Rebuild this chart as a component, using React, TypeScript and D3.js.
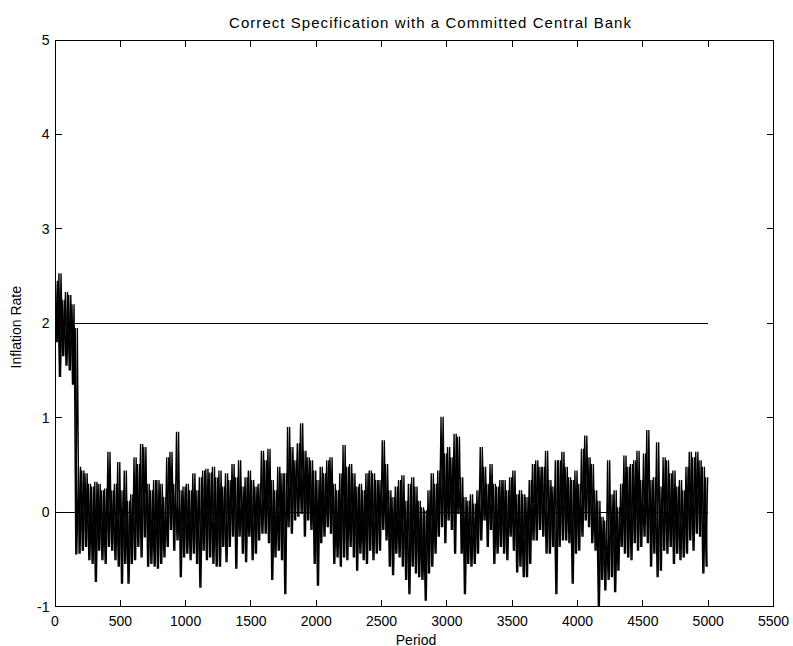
import * as d3 from 'd3'

const title = 'Correct Specification with a Committed Central Bank'
const xLabel = 'Period'
const yLabel = 'Inflation Rate'

const periodTicks = [0, 500, 1000, 1500, 2000, 2500, 3000, 3500, 4000, 4500, 5000, 5500]
const rateTicks = [-1, 0, 1, 2, 3, 4, 5]

// simulated path, 25 periods per bin: highest and lowest value in each bin
const binWidth = 25
const binHigh = [
  2.45, 2.53, 2.25, 2.33, 2.3, 2.2, 1.95, 0.48, 0.44, 0.41,
  0.3, 0.27, 0.32, 0.3, 0.23, 0.25, 0.64, 0.23, 0.3, 0.53,
  0.23, 0.44, 0.12, 0.19, 0.58, 0.51, 0.72, 0.69, 0.3, 0.23,
  0.34, 0.34, 0.3, 0.16, 0.58, 0.64, 0.3, 0.85, 0.23, 0.27,
  0.3, 0.23, 0.41, 0.23, 0.37, 0.44, 0.46, 0.42, 0.48, 0.37,
  0.44, 0.27, 0.41, 0.34, 0.51, 0.37, 0.55, 0.27, 0.37, 0.44,
  0.34, 0.27, 0.3, 0.65, 0.55, 0.67, 0.34, 0.23, 0.48, 0.41,
  0.41, 0.9, 0.69, 0.55, 0.73, 0.94, 0.65, 0.58, 0.55, 0.44,
  0.34, 0.48, 0.41, 0.55, 0.58, 0.3, 0.23, 0.41, 0.71, 0.48,
  0.51, 0.41, 0.27, 0.3, 0.23, 0.41, 0.44, 0.41, 0.34, 0.34,
  0.76, 0.51, 0.23, 0.16, 0.27, 0.34, 0.39, 0.12, 0.3, 0.37,
  0.27, 0.12, 0.05, 0.02, 0.23, 0.41, 0.3, 0.44, 1.01, 0.62,
  0.69, 0.58, 0.83, 0.8, 0.37, 0.16, 0.12, 0.19, 0.09, 0.23,
  0.69, 0.48, 0.3, 0.51, 0.3, 0.27, 0.34, 0.34, 0.23, 0.37,
  0.44, 0.19, 0.23, 0.19, 0.16, 0.34, 0.51, 0.55, 0.48, 0.48,
  0.65, 0.34, 0.27, 0.55, 0.55, 0.64, 0.48, 0.37, 0.34, 0.44,
  0.3, 0.67, 0.81, 0.58, 0.51, 0.23, 0.12, -0.05, -0.09, 0.55,
  0.19, 0.23, 0.05, 0.3, 0.6, 0.48, 0.51, 0.55, 0.65, 0.34,
  0.62, 0.87, 0.34, 0.37, 0.74, 0.27, 0.58, 0.55, 0.41, 0.44,
  0.27, 0.34, 0.23, 0.48, 0.64, 0.58, 0.64, 0.55, 0.48, 0.37,
]
const binLow = [
  1.8, 1.43, 1.65, 1.55, 1.5, 1.35, -0.45, -0.44, -0.41, -0.37,
  -0.51, -0.55, -0.74, -0.41, -0.51, -0.55, -0.37, -0.41, -0.51, -0.58,
  -0.76, -0.55, -0.76, -0.55, -0.51, -0.37, -0.48, -0.27, -0.58, -0.55,
  -0.58, -0.6, -0.55, -0.48, -0.37, -0.19, -0.41, -0.3, -0.69, -0.48,
  -0.44, -0.51, -0.44, -0.55, -0.8, -0.41, -0.51, -0.48, -0.55, -0.58,
  -0.58, -0.37, -0.53, -0.37, -0.26, -0.6, -0.26, -0.44, -0.53, -0.26,
  -0.51, -0.44, -0.3, -0.23, -0.23, -0.33, -0.72, -0.48, -0.41, -0.51,
  -0.87, -0.16, -0.23, -0.09, -0.05, -0.02, -0.26, -0.09, -0.19, -0.55,
  -0.78, -0.33, -0.26, -0.16, -0.23, -0.55, -0.48, -0.58, -0.48, -0.51,
  -0.37, -0.48, -0.62, -0.44, -0.51, -0.55, -0.41, -0.51, -0.44, -0.41,
  -0.19, -0.3, -0.58, -0.67, -0.44, -0.48, -0.58, -0.72, -0.87, -0.58,
  -0.65, -0.69, -0.72, -0.94, -0.65, -0.58, -0.44, -0.26, -0.16, -0.33,
  -0.09, -0.19, -0.44, -0.02, -0.44, -0.87, -0.55, -0.58, -0.55, -0.44,
  -0.3, -0.09, -0.37, -0.19, -0.55, -0.44, -0.37, -0.44, -0.51, -0.26,
  -0.41, -0.64, -0.58, -0.69, -0.69, -0.55, -0.3, -0.3, -0.19, -0.26,
  -0.44, -0.44, -0.37, -0.87, -0.37, -0.3, -0.3, -0.33, -0.76, -0.44,
  -0.41, -0.26, -0.09, -0.16, -0.33, -0.41, -1.0, -0.72, -0.83, -0.72,
  -0.69, -0.85, -0.62, -0.37, -0.44, -0.48, -0.51, -0.33, -0.41, -0.37,
  -0.26, -0.33, -0.58, -0.44, -0.69, -0.62, -0.41, -0.44, -0.37, -0.55,
  -0.44, -0.51, -0.48, -0.44, -0.3, -0.41, -0.23, -0.26, -0.65, -0.58,
]

// reference lines: inflation target and zero
const refSpan = [0, 5000]
const refRates = [2, 0]

const W = 793
const H = 646
const margin = { left: 55, right: 19.5, top: 40, bottom: 39.5 }
const tickLen = 7
const font = '"Liberation Sans", Arial, Helvetica, sans-serif'

export default function App() {
  const x = d3.scaleLinear().domain([0, 5500]).range([margin.left, W - margin.right])
  const y = d3.scaleLinear().domain([-1, 5]).range([H - margin.bottom, margin.top])

  // two passes over the same bins, in opposite phase, so the band looks dense like the original
  const passA: [number, number][] = binHigh.flatMap((h, i) => [
    [i * binWidth + 5, h] as [number, number],
    [i * binWidth + 17, binLow[i]] as [number, number],
  ])
  const passB: [number, number][] = binHigh.flatMap((h, i) => [
    [i * binWidth + 9, binLow[i]] as [number, number],
    [i * binWidth + 21, h] as [number, number],
  ])
  const line = d3
    .line<[number, number]>()
    .x((d) => x(d[0]))
    .y((d) => y(d[1]))

  const x0 = x.range()[0]
  const x1 = x.range()[1]
  const y0 = y.range()[0]
  const y1 = y.range()[1]

  return (
    <svg
      width={W}
      height={H}
      style={{ position: 'absolute', left: 0, top: 0, background: '#fff' }}
      fontFamily={font}
    >
      <rect width={W} height={H} fill="#fff" />

      {/* series */}
      <path d={line(passA) ?? ''} fill="none" stroke="#000" strokeWidth={1.35} />
      <path d={line(passB) ?? ''} fill="none" stroke="#000" strokeWidth={1.35} />

      {refRates.map((r) => (
        <line
          key={r}
          x1={x(refSpan[0])}
          x2={x(refSpan[1])}
          y1={y(r)}
          y2={y(r)}
          stroke="#000"
          strokeWidth={1}
          shapeRendering="crispEdges"
        />
      ))}

      {/* box */}
      <rect
        x={x0}
        y={y1}
        width={x1 - x0}
        height={y0 - y1}
        fill="none"
        stroke="#000"
        strokeWidth={1}
        shapeRendering="crispEdges"
      />

      {/* x ticks, both sides inward */}
      {periodTicks.map((t) => (
        <g key={'x' + t}>
          <line x1={x(t)} x2={x(t)} y1={y0} y2={y0 - tickLen} stroke="#000" shapeRendering="crispEdges" />
          <line x1={x(t)} x2={x(t)} y1={y1} y2={y1 + tickLen} stroke="#000" shapeRendering="crispEdges" />
          <text x={x(t)} y={625.5} fontSize={14} textAnchor="middle">
            {t}
          </text>
        </g>
      ))}

      {/* y ticks */}
      {rateTicks.map((t) => (
        <g key={'y' + t}>
          <line x1={x0} x2={x0 + tickLen} y1={y(t)} y2={y(t)} stroke="#000" shapeRendering="crispEdges" />
          <line x1={x1} x2={x1 - tickLen} y1={y(t)} y2={y(t)} stroke="#000" shapeRendering="crispEdges" />
          <text x={49.5} y={y(t) + 5} fontSize={14} textAnchor="end">
            {t}
          </text>
        </g>
      ))}

      <text x={229} y={28} fontSize={15} textLength={402} lengthAdjust="spacing">
        {title}
      </text>
      <text x={416} y={644.5} fontSize={14} textAnchor="middle">
        {xLabel}
      </text>
      <text transform={`translate(21,${y(2) + 4}) rotate(-90)`} fontSize={14} textAnchor="middle">
        {yLabel}
      </text>
    </svg>
  )
}
